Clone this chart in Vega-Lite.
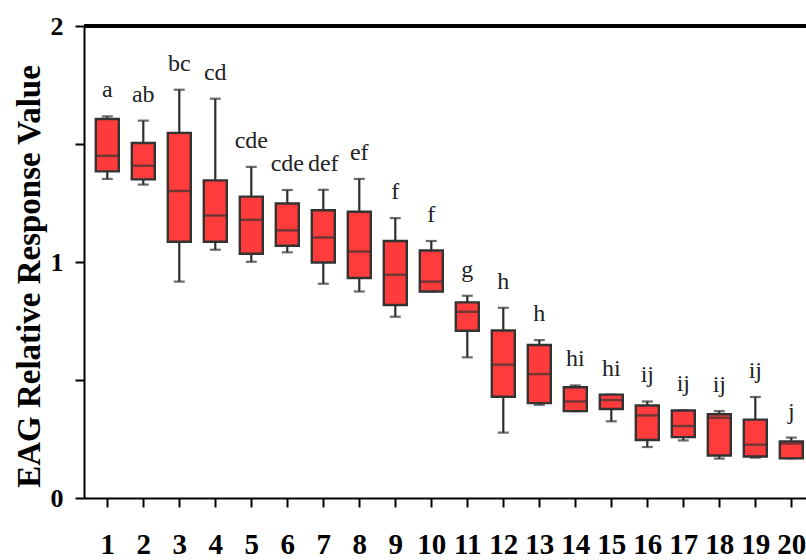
{
  "$schema": "https://vega.github.io/schema/vega-lite/v6.json",
  "width": 722,
  "height": 472,
  "autosize": "none",
  "padding": {"left": 84, "top": 26, "right": 0, "bottom": 62},
  "background": "white",
  "config": {"view": {"stroke": null}, "font": "Liberation Serif"},
  "data": {"values": [
    {"g": 1, "min": 1.352, "q1": 1.384, "med": 1.450, "q3": 1.606, "max": 1.617, "letter": "a"},
    {"g": 2, "min": 1.328, "q1": 1.350, "med": 1.408, "q3": 1.504, "max": 1.599, "letter": "ab"},
    {"g": 3, "min": 0.917, "q1": 1.086, "med": 1.301, "q3": 1.547, "max": 1.730, "letter": "bc"},
    {"g": 4, "min": 1.052, "q1": 1.086, "med": 1.197, "q3": 1.346, "max": 1.692, "letter": "cd"},
    {"g": 5, "min": 1.001, "q1": 1.035, "med": 1.179, "q3": 1.277, "max": 1.403, "letter": "cde"},
    {"g": 6, "min": 1.041, "q1": 1.069, "med": 1.134, "q3": 1.248, "max": 1.305, "letter": "cde"},
    {"g": 7, "min": 0.908, "q1": 0.998, "med": 1.104, "q3": 1.219, "max": 1.306, "letter": "def"},
    {"g": 8, "min": 0.875, "q1": 0.932, "med": 1.044, "q3": 1.213, "max": 1.352, "letter": "ef"},
    {"g": 9, "min": 0.768, "q1": 0.818, "med": 0.946, "q3": 1.089, "max": 1.186, "letter": "f"},
    {"g": 10, "min": 0.875, "q1": 0.875, "med": 0.917, "q3": 1.049, "max": 1.089, "letter": "f"},
    {"g": 11, "min": 0.596, "q1": 0.709, "med": 0.789, "q3": 0.829, "max": 0.857, "letter": "g"},
    {"g": 12, "min": 0.277, "q1": 0.429, "med": 0.565, "q3": 0.710, "max": 0.806, "letter": "h"},
    {"g": 13, "min": 0.395, "q1": 0.402, "med": 0.525, "q3": 0.648, "max": 0.669, "letter": "h"},
    {"g": 14, "min": 0.368, "q1": 0.368, "med": 0.409, "q3": 0.469, "max": 0.477, "letter": "hi"},
    {"g": 15, "min": 0.325, "q1": 0.377, "med": 0.415, "q3": 0.438, "max": 0.438, "letter": "hi"},
    {"g": 16, "min": 0.216, "q1": 0.246, "med": 0.350, "q3": 0.392, "max": 0.409, "letter": "ij"},
    {"g": 17, "min": 0.244, "q1": 0.258, "med": 0.305, "q3": 0.371, "max": 0.371, "letter": "ij"},
    {"g": 18, "min": 0.167, "q1": 0.180, "med": 0.340, "q3": 0.355, "max": 0.368, "letter": "ij"},
    {"g": 19, "min": 0.171, "q1": 0.176, "med": 0.226, "q3": 0.332, "max": 0.428, "letter": "ij"},
    {"g": 20, "min": 0.168, "q1": 0.168, "med": 0.231, "q3": 0.240, "max": 0.256, "letter": "j"}
  ]},
  "encoding": {
    "x": {
      "field": "g", "type": "quantitative",
      "scale": {"domain": [0.353, 20.408], "nice": false, "zero": false, "padding": 0},
      "axis": {
        "values": [1,2,3,4,5,6,7,8,9,10,11,12,13,14,15,16,17,18,19,20],
        "format": "d",
        "title": null, "grid": false,
        "domainColor": "black", "domainWidth": 2,
        "tickColor": "black", "tickWidth": 2, "tickSize": 9,
        "labelFont": "Liberation Serif", "labelFontWeight": "bold", "labelFontSize": 29,
        "labelColor": "black", "labelBaseline": "alphabetic", "labelPadding": 46,
        "labelOverlap": false, "labelFlush": false
      }
    }
  },
  "layer": [
    {
      "mark": {"type": "rule", "color": "black", "strokeWidth": 3},
      "encoding": {"x": null, "y": {"datum": 2}}
    },
    {
      "mark": {"type": "rule", "color": "#2e2e2e", "strokeWidth": 2.2},
      "encoding": {
        "y": {
          "field": "min", "type": "quantitative",
          "scale": {"domain": [0, 2], "nice": false},
          "axis": {
            "values": [0, 0.5, 1, 1.5, 2],
            "labelExpr": "datum.value % 1 == 0 ? format(datum.value, 'd') : ''",
            "title": "EAG Relative Response Value",
            "titleFont": "Liberation Serif", "titleFontWeight": "bold", "titleFontSize": 33,
            "titleColor": "black", "titlePadding": 4,
            "titleY": 250,
            "grid": false,
            "domainColor": "black", "domainWidth": 2,
            "tickColor": "black", "tickWidth": 2, "tickSize": 9,
            "labelFont": "Liberation Serif", "labelFontWeight": "bold", "labelFontSize": 26,
            "labelColor": "black", "labelPadding": 12
          }
        },
        "y2": {"field": "max"}
      }
    },
    {
      "mark": {"type": "tick", "orient": "horizontal", "color": "#2e2e2e", "size": 11, "thickness": 2.2},
      "encoding": {"y": {"field": "min", "type": "quantitative"}}
    },
    {
      "mark": {"type": "tick", "orient": "horizontal", "color": "#2e2e2e", "size": 11, "thickness": 2.2},
      "encoding": {"y": {"field": "max", "type": "quantitative"}}
    },
    {
      "mark": {"type": "bar", "size": 23, "fill": "#FF3B3B", "stroke": "#333333", "strokeWidth": 2.4},
      "encoding": {
        "y": {"field": "q1", "type": "quantitative"},
        "y2": {"field": "q3"}
      }
    },
    {
      "mark": {"type": "tick", "orient": "horizontal", "color": "#333333", "size": 23, "thickness": 2.4},
      "encoding": {"y": {"field": "med", "type": "quantitative"}}
    },
    {
      "mark": {"type": "text", "font": "Liberation Serif", "fontSize": 24, "color": "#222222", "baseline": "alphabetic", "dy": -19},
      "encoding": {
        "y": {"field": "max", "type": "quantitative"},
        "text": {"field": "letter"}
      }
    }
  ]
}
